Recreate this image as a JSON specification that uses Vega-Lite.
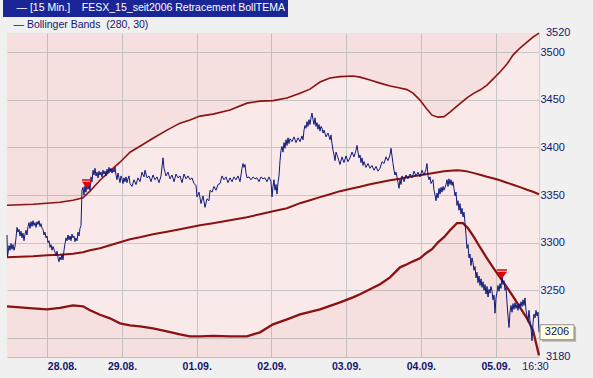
{
 "$schema": "https://vega.github.io/schema/vega-lite/v6.json",
 "width": 532, "height": 324,
 "autosize": "none",
 "padding": {"left": 7, "top": 33, "right": 54, "bottom": 21},
 "background": "#f0f0f0",
 "config": {"view": {"fill": "#fae9e9", "stroke": null}, "font": "Liberation Sans"},
 "datasets": {
  "price": [
{"i":0,"p":3308},{"i":0.5,"p":3285},{"i":2,"p":3297},{"i":3,"p":3292},{"i":4,"p":3299},{"i":5,"p":3293},{"i":6,"p":3298},{"i":7,"p":3292},{"i":8,"p":3296},{"i":9,"p":3305},{"i":10,"p":3316},{"i":11,"p":3311},{"i":12,"p":3314},{"i":13,"p":3307},{"i":14,"p":3312},{"i":15,"p":3305},{"i":16,"p":3310},{"i":17,"p":3302},{"i":18,"p":3309},{"i":19,"p":3313},{"i":20,"p":3308},{"i":21,"p":3317},{"i":22,"p":3321},{"i":23,"p":3315},{"i":24,"p":3322},{"i":25,"p":3317},{"i":26,"p":3323},{"i":27,"p":3318},{"i":28,"p":3321},{"i":29,"p":3316},{"i":30,"p":3322},{"i":31,"p":3319},{"i":32,"p":3323},{"i":33,"p":3317},{"i":34,"p":3320},{"i":35,"p":3315},{"i":36,"p":3314},{"i":37,"p":3308},{"i":38,"p":3311},{"i":39,"p":3305},{"i":40,"p":3307},{"i":41,"p":3300},{"i":42,"p":3302},{"i":43,"p":3295},{"i":44,"p":3298},{"i":45,"p":3292},{"i":46,"p":3296},{"i":47,"p":3293},{"i":48,"p":3290},{"i":49,"p":3286},{"i":50,"p":3291},{"i":51,"p":3284},{"i":52,"p":3280},{"i":53,"p":3285},{"i":54,"p":3282},{"i":55,"p":3288},{"i":56,"p":3282},{"i":57,"p":3292},{"i":58,"p":3299},{"i":59,"p":3305},{"i":60,"p":3302},{"i":61,"p":3308},{"i":62,"p":3303},{"i":63,"p":3307},{"i":64,"p":3302},{"i":65,"p":3309},{"i":66,"p":3305},{"i":67,"p":3307},{"i":68,"p":3301},{"i":69,"p":3305},{"i":70,"p":3302},{"i":71,"p":3311},{"i":72,"p":3307},{"i":73,"p":3315},{"i":74,"p":3318},{"i":75,"p":3355},{"i":76,"p":3358},{"i":77,"p":3350},{"i":78,"p":3360},{"i":79,"p":3353},{"i":80,"p":3362},{"i":81,"p":3356},{"i":82,"p":3361},{"i":83,"p":3355},{"i":84,"p":3369},{"i":85,"p":3364},{"i":86,"p":3376},{"i":87,"p":3371},{"i":88,"p":3378},{"i":89,"p":3370},{"i":90,"p":3374},{"i":91,"p":3368},{"i":92,"p":3375},{"i":93,"p":3371},{"i":94,"p":3374},{"i":95,"p":3369},{"i":96,"p":3376},{"i":97,"p":3372},{"i":98,"p":3375},{"i":99,"p":3370},{"i":100,"p":3377},{"i":101,"p":3373},{"i":102,"p":3379},{"i":103,"p":3375},{"i":104,"p":3378},{"i":105,"p":3373},{"i":106,"p":3377},{"i":107,"p":3374},{"i":108,"p":3379},{"i":109,"p":3371},{"i":110,"p":3366},{"i":111,"p":3373},{"i":112,"p":3368},{"i":113,"p":3363},{"i":114,"p":3370},{"i":115,"p":3367},{"i":116,"p":3362},{"i":117,"p":3368},{"i":118,"p":3364},{"i":119,"p":3369},{"i":120,"p":3363},{"i":121,"p":3367},{"i":122,"p":3370},{"i":123,"p":3362},{"i":125,"p":3359},{"i":127,"p":3366},{"i":129,"p":3361},{"i":131,"p":3368},{"i":133,"p":3364},{"i":135,"p":3374},{"i":137,"p":3369},{"i":138,"p":3376},{"i":140,"p":3368},{"i":142,"p":3370},{"i":144,"p":3364},{"i":146,"p":3371},{"i":148,"p":3366},{"i":150,"p":3369},{"i":152,"p":3363},{"i":154,"p":3370},{"i":156,"p":3389},{"i":157,"p":3378},{"i":159,"p":3370},{"i":161,"p":3374},{"i":163,"p":3367},{"i":165,"p":3371},{"i":167,"p":3364},{"i":169,"p":3372},{"i":171,"p":3368},{"i":173,"p":3370},{"i":175,"p":3363},{"i":177,"p":3372},{"i":179,"p":3367},{"i":181,"p":3370},{"i":183,"p":3366},{"i":185,"p":3368},{"i":187,"p":3362},{"i":189,"p":3360},{"i":190,"p":3348},{"i":192,"p":3353},{"i":194,"p":3341},{"i":196,"p":3349},{"i":198,"p":3337},{"i":200,"p":3346},{"i":202,"p":3344},{"i":203,"p":3355},{"i":205,"p":3353},{"i":207,"p":3359},{"i":209,"p":3355},{"i":211,"p":3361},{"i":213,"p":3362},{"i":215,"p":3370},{"i":217,"p":3366},{"i":219,"p":3369},{"i":221,"p":3363},{"i":223,"p":3368},{"i":225,"p":3364},{"i":227,"p":3369},{"i":229,"p":3366},{"i":231,"p":3370},{"i":233,"p":3364},{"i":235,"p":3378},{"i":236,"p":3383},{"i":237,"p":3379},{"i":238,"p":3382},{"i":239,"p":3373},{"i":240,"p":3368},{"i":242,"p":3369},{"i":244,"p":3366},{"i":246,"p":3369},{"i":248,"p":3367},{"i":250,"p":3368},{"i":252,"p":3364},{"i":254,"p":3369},{"i":256,"p":3367},{"i":258,"p":3368},{"i":260,"p":3364},{"i":262,"p":3369},{"i":264,"p":3364},{"i":265,"p":3348},{"i":266,"p":3359},{"i":267,"p":3366},{"i":268,"p":3355},{"i":269,"p":3361},{"i":270,"p":3351},{"i":271,"p":3363},{"i":272,"p":3370},{"i":273,"p":3386},{"i":274,"p":3397},{"i":275,"p":3401},{"i":276,"p":3395},{"i":277,"p":3405},{"i":278,"p":3399},{"i":279,"p":3408},{"i":280,"p":3402},{"i":281,"p":3410},{"i":282,"p":3404},{"i":283,"p":3409},{"i":285,"p":3406},{"i":287,"p":3411},{"i":289,"p":3405},{"i":291,"p":3410},{"i":293,"p":3406},{"i":295,"p":3412},{"i":296,"p":3408},{"i":297,"p":3418},{"i":298,"p":3423},{"i":299,"p":3420},{"i":300,"p":3427},{"i":301,"p":3422},{"i":302,"p":3429},{"i":303,"p":3424},{"i":304,"p":3431},{"i":305,"p":3436},{"i":306,"p":3429},{"i":307,"p":3424},{"i":308,"p":3431},{"i":309,"p":3422},{"i":310,"p":3426},{"i":311,"p":3419},{"i":312,"p":3424},{"i":313,"p":3417},{"i":314,"p":3422},{"i":315,"p":3420},{"i":316,"p":3415},{"i":317,"p":3418},{"i":319,"p":3411},{"i":321,"p":3415},{"i":323,"p":3408},{"i":324,"p":3413},{"i":325,"p":3404},{"i":326,"p":3397},{"i":327,"p":3392},{"i":328,"p":3386},{"i":329,"p":3395},{"i":331,"p":3389},{"i":333,"p":3382},{"i":335,"p":3390},{"i":337,"p":3384},{"i":339,"p":3391},{"i":341,"p":3385},{"i":343,"p":3389},{"i":345,"p":3395},{"i":347,"p":3390},{"i":349,"p":3397},{"i":350,"p":3402},{"i":351,"p":3395},{"i":352,"p":3389},{"i":353,"p":3392},{"i":354,"p":3384},{"i":355,"p":3389},{"i":356,"p":3381},{"i":357,"p":3385},{"i":359,"p":3379},{"i":361,"p":3383},{"i":363,"p":3378},{"i":365,"p":3381},{"i":367,"p":3376},{"i":369,"p":3380},{"i":371,"p":3375},{"i":373,"p":3378},{"i":375,"p":3385},{"i":377,"p":3383},{"i":379,"p":3390},{"i":381,"p":3386},{"i":383,"p":3392},{"i":384,"p":3399},{"i":385,"p":3391},{"i":386,"p":3383},{"i":387,"p":3376},{"i":388,"p":3371},{"i":389,"p":3374},{"i":390,"p":3369},{"i":391,"p":3363},{"i":392,"p":3357},{"i":393,"p":3366},{"i":394,"p":3361},{"i":395,"p":3370},{"i":397,"p":3364},{"i":399,"p":3371},{"i":401,"p":3367},{"i":403,"p":3372},{"i":405,"p":3368},{"i":407,"p":3375},{"i":409,"p":3370},{"i":411,"p":3374},{"i":413,"p":3369},{"i":415,"p":3376},{"i":417,"p":3371},{"i":419,"p":3377},{"i":420,"p":3383},{"i":421,"p":3370},{"i":422,"p":3366},{"i":423,"p":3369},{"i":424,"p":3362},{"i":426,"p":3366},{"i":427,"p":3355},{"i":428,"p":3350},{"i":429,"p":3344},{"i":430,"p":3352},{"i":431,"p":3347},{"i":432,"p":3357},{"i":433,"p":3351},{"i":434,"p":3358},{"i":435,"p":3353},{"i":436,"p":3359},{"i":437,"p":3355},{"i":439,"p":3361},{"i":440,"p":3366},{"i":441,"p":3359},{"i":442,"p":3367},{"i":443,"p":3361},{"i":444,"p":3366},{"i":445,"p":3360},{"i":446,"p":3364},{"i":447,"p":3357},{"i":448,"p":3349},{"i":449,"p":3353},{"i":450,"p":3339},{"i":451,"p":3344},{"i":452,"p":3334},{"i":453,"p":3341},{"i":454,"p":3330},{"i":455,"p":3336},{"i":456,"p":3327},{"i":457,"p":3332},{"i":458,"p":3321},{"i":459,"p":3308},{"i":460,"p":3294},{"i":461,"p":3298},{"i":462,"p":3284},{"i":463,"p":3288},{"i":464,"p":3276},{"i":465,"p":3284},{"i":466,"p":3279},{"i":467,"p":3271},{"i":468,"p":3275},{"i":469,"p":3263},{"i":470,"p":3269},{"i":471,"p":3258},{"i":472,"p":3265},{"i":473,"p":3255},{"i":474,"p":3262},{"i":475,"p":3253},{"i":476,"p":3259},{"i":477,"p":3250},{"i":478,"p":3256},{"i":479,"p":3246},{"i":480,"p":3254},{"i":481,"p":3243},{"i":482,"p":3251},{"i":483,"p":3247},{"i":484,"p":3254},{"i":485,"p":3249},{"i":486,"p":3240},{"i":487,"p":3245},{"i":488,"p":3226},{"i":489,"p":3242},{"i":490,"p":3248},{"i":491,"p":3255},{"i":492,"p":3249},{"i":493,"p":3257},{"i":494,"p":3252},{"i":495,"p":3266},{"i":496,"p":3256},{"i":497,"p":3260},{"i":498,"p":3250},{"i":499,"p":3253},{"i":500,"p":3237},{"i":501,"p":3223},{"i":502,"p":3211},{"i":503,"p":3227},{"i":504,"p":3234},{"i":505,"p":3227},{"i":506,"p":3236},{"i":507,"p":3230},{"i":508,"p":3237},{"i":509,"p":3231},{"i":510,"p":3235},{"i":511,"p":3229},{"i":512,"p":3236},{"i":513,"p":3232},{"i":514,"p":3238},{"i":515,"p":3233},{"i":516,"p":3240},{"i":517,"p":3234},{"i":518,"p":3242},{"i":519,"p":3229},{"i":520,"p":3223},{"i":521,"p":3217},{"i":522,"p":3229},{"i":523,"p":3218},{"i":524,"p":3210},{"i":525,"p":3197},{"i":526,"p":3216},{"i":527,"p":3225},{"i":528,"p":3221},{"i":529,"p":3229},{"i":530,"p":3223},{"i":531,"p":3227},{"i":532,"p":3206}
  ],
  "bands": [
{"i":0,"upper":3339.3,"middle":3284.6,"lower":3233.2},{"i":13,"upper":3339.8,"middle":3285.2,"lower":3232.1},{"i":26,"upper":3340.3,"middle":3285.7,"lower":3231.1},{"i":40,"upper":3341.4,"middle":3286.7,"lower":3230.0},{"i":53,"upper":3342.4,"middle":3287.3,"lower":3231.6},{"i":66,"upper":3344.5,"middle":3288.3,"lower":3234.2},{"i":76,"upper":3347.1,"middle":3289.9,"lower":3233.2},{"i":83,"upper":3354.0,"middle":3292.0,"lower":3229.0},{"i":93,"upper":3365.5,"middle":3294.1,"lower":3224.3},{"i":103,"upper":3375.0,"middle":3297.3,"lower":3220.6},{"i":113,"upper":3384.4,"middle":3300.4,"lower":3215.3},{"i":123,"upper":3394.9,"middle":3303.6,"lower":3213.2},{"i":133,"upper":3401.2,"middle":3305.7,"lower":3212.2},{"i":146,"upper":3409.6,"middle":3308.8,"lower":3210.1},{"i":160,"upper":3418.1,"middle":3311.4,"lower":3206.9},{"i":173,"upper":3425.4,"middle":3314.1,"lower":3203.8},{"i":183,"upper":3428.6,"middle":3316.2,"lower":3201.7},{"i":193,"upper":3432.8,"middle":3318.3,"lower":3201.7},{"i":206,"upper":3434.9,"middle":3320.4,"lower":3202.2},{"i":223,"upper":3439.1,"middle":3323.5,"lower":3201.7},{"i":240,"upper":3446.4,"middle":3326.7,"lower":3201.7},{"i":253,"upper":3448.5,"middle":3329.8,"lower":3205.9},{"i":266,"upper":3449.0,"middle":3333.0,"lower":3214.3},{"i":280,"upper":3451.7,"middle":3336.1,"lower":3219.5},{"i":293,"upper":3456.9,"middle":3341.4,"lower":3224.8},{"i":303,"upper":3461.1,"middle":3344.5,"lower":3227.4},{"i":313,"upper":3468.5,"middle":3347.7,"lower":3230.0},{"i":323,"upper":3472.7,"middle":3350.8,"lower":3233.7},{"i":333,"upper":3474.2,"middle":3354.0,"lower":3237.4},{"i":346,"upper":3474.8,"middle":3357.1,"lower":3242.6},{"i":353,"upper":3473.7,"middle":3358.7,"lower":3245.8},{"i":363,"upper":3470.6,"middle":3361.3,"lower":3251.0},{"i":373,"upper":3467.4,"middle":3363.4,"lower":3256.3},{"i":383,"upper":3464.3,"middle":3365.5,"lower":3263.6},{"i":393,"upper":3462.2,"middle":3367.1,"lower":3274.1},{"i":400,"upper":3460.6,"middle":3368.7,"lower":3277.3},{"i":406,"upper":3456.9,"middle":3369.7,"lower":3280.4},{"i":413,"upper":3449.6,"middle":3370.8,"lower":3283.6},{"i":419,"upper":3441.2,"middle":3371.8,"lower":3288.9},{"i":425,"upper":3433.8,"middle":3372.9,"lower":3293.1},{"i":431,"upper":3431.7,"middle":3373.9,"lower":3300.4},{"i":437,"upper":3432.2,"middle":3375.0,"lower":3305.7},{"i":443,"upper":3437.0,"middle":3375.5,"lower":3313.0},{"i":450,"upper":3443.3,"middle":3376.0,"lower":3320.4},{"i":456,"upper":3448.5,"middle":3375.5,"lower":3320.4},{"i":461,"upper":3452.7,"middle":3374.5,"lower":3315.1},{"i":467,"upper":3456.9,"middle":3372.9,"lower":3305.7},{"i":473,"upper":3460.1,"middle":3371.3,"lower":3295.2},{"i":480,"upper":3465.3,"middle":3369.2,"lower":3283.6},{"i":486,"upper":3471.6,"middle":3367.6,"lower":3274.1},{"i":493,"upper":3479.0,"middle":3365.5,"lower":3263.6},{"i":500,"upper":3487.4,"middle":3362.9,"lower":3253.1},{"i":506,"upper":3496.8,"middle":3360.8,"lower":3243.7},{"i":513,"upper":3504.2,"middle":3358.2,"lower":3232.1},{"i":520,"upper":3510.5,"middle":3355.5,"lower":3220.6},{"i":526,"upper":3515.7,"middle":3353.4,"lower":3208.0},{"i":532,"upper":3519.9,"middle":3350.8,"lower":3181.7}
  ],
  "signals": [{"i":80,"p":3361.3},{"i":495,"p":3266.8}],
  "last": [{"i":532,"p":3206}],
  "bandEnds": [{"i":532,"p":3520},{"i":532,"p":3180}]
 },
 "encoding": {
  "x": {"field": "i", "type": "quantitative", "title": null,
   "scale": {"domain": [0, 532], "nice": false, "zero": false},
   "axis": {
    "values": [40.3, 115, 189.7, 264.4, 339.1, 413.8, 488.5, 528],
    "labelExpr": "datum.value < 60 ? '28.08.' : datum.value < 150 ? '29.08.' : datum.value < 220 ? '01.09.' : datum.value < 300 ? '02.09.' : datum.value < 370 ? '03.09.' : datum.value < 450 ? '04.09.' : datum.value < 510 ? '05.09.' : '16:30'",
    "labelAlign": {"condition": {"test": "datum.value < 60", "value": "left"}, "value": "center"},
    "labelFontWeight": {"condition": {"test": "datum.value > 520", "value": "normal"}, "value": "bold"},
    "gridColor": {"condition": {"test": "datum.value > 520", "value": "rgba(0,0,0,0)"}, "value": "#c6c6c6"},
    "grid": true, "ticks": false, "domain": true, "domainColor": "#bdbdbd",
    "labelFont": "Liberation Sans", "labelFontSize": 10.5, "labelColor": "#14166e",
    "labelPadding": 4, "labelBound": false, "labelOverlap": false, "labelFlush": false
   }
  }
 },
 "layer": [
  {"data": {"name": "bands"},
   "mark": {"type": "area", "color": "#b41e1e", "opacity": 0.05},
   "encoding": {
    "y": {"field": "upper", "type": "quantitative", "title": null,
     "scale": {"domain": [3180, 3520], "nice": false, "zero": false},
     "axis": {"orient": "right", "values": [3200, 3250, 3300, 3350, 3400, 3450, 3500], "format": "d",
      "labelExpr": "datum.value == 3200 ? '' : datum.label",
      "grid": true, "gridColor": "#c6c6c6", "ticks": false, "domain": true, "domainColor": "#d0d0d0",
      "labelPadding": 1, "labelFont": "Liberation Sans", "labelFontSize": 11, "labelColor": "#14166e", "title": null}},
    "y2": {"datum": 3520}}},
  {"data": {"name": "bands"},
   "mark": {"type": "area", "color": "#b41e1e", "opacity": 0.05},
   "encoding": {"y": {"field": "lower", "type": "quantitative", "title": null}, "y2": {"datum": 3180}}},
  {"data": {"name": "bands"},
   "transform": [{"fold": ["upper", "middle", "lower"], "as": ["band", "v"]}],
   "mark": {"type": "line"},
   "encoding": {
    "y": {"field": "v", "type": "quantitative", "title": null},
    "detail": {"field": "band"},
    "strokeWidth": {"field": "band", "type": "nominal", "scale": {"domain": ["upper", "middle", "lower"], "range": [1.6, 2.3, 1.6]}, "legend": null},
    "stroke": {"datum": "Bollinger Bands\u00a0\u00a0(280, 30)", "scale": {"range": ["#8a1212"]},
     "legend": {"orient": "none", "legendX": -7, "legendY": -16, "title": null, "padding": 3,
      "labelColor": "#14166e", "labelFont": "Liberation Sans", "labelFontSize": 10.5, "labelLimit": 600, "labelOffset": 0,
      "symbolSize": 0, "symbolStrokeWidth": 0, "symbolOpacity": 0,
      "labelExpr": "'\u00a0\u00a0\u2014 ' + datum.label"}}}},
  {"data": {"name": "price"},
   "mark": {"type": "line", "strokeWidth": 1},
   "encoding": {
    "y": {"field": "p", "type": "quantitative", "title": null},
    "color": {"datum": "[15 Min.]\u00a0\u00a0\u00a0\u00a0FESX_15_seit2006 Retracement BollTEMA", "scale": {"range": ["#0d1a7a"]},
     "legend": {"orient": "none", "legendX": -4, "legendY": -33, "title": null, "padding": 3, "fillColor": "#1a2596",
      "labelColor": "#ffffff", "labelFont": "Liberation Sans", "labelFontSize": 10.5, "labelLimit": 600, "labelOffset": 0,
      "symbolSize": 0, "symbolStrokeWidth": 0, "symbolOpacity": 0,
      "labelExpr": "'\u00a0\u2014 ' + datum.label + '\u00a0\u00a0\u00a0'"}}}},
  {"data": {"name": "signals"},
   "mark": {"type": "point", "shape": "M-1,-1L1,-1L1,-0.72L-1,-0.72Z M-1,-0.5L1,-0.5L0,0.85Z", "size": 100, "filled": true, "color": "#e00000", "opacity": 1},
   "encoding": {"y": {"field": "p", "type": "quantitative", "title": null}}},
  {"data": {"name": "last"},
   "mark": {"type": "point", "shape": "M0.18,-0.32L2.18,-0.32L2.18,0.56L0.18,0.56Z", "size": 1156, "filled": true, "color": "#9a9a9a", "opacity": 0.7},
   "encoding": {"y": {"field": "p", "type": "quantitative", "title": null}}},
  {"data": {"name": "last"},
   "mark": {"type": "point", "shape": "M0.06,-0.44L2.06,-0.44L2.06,0.44L0.06,0.44Z", "size": 1156, "filled": true, "fill": "#ffffe1", "stroke": "#8c8c8c", "strokeWidth": 1, "opacity": 1},
   "encoding": {"y": {"field": "p", "type": "quantitative", "title": null}}},
  {"data": {"name": "last"},
   "mark": {"type": "text", "dx": 18, "align": "center", "baseline": "middle", "fontSize": 11, "font": "Liberation Sans", "color": "#10105a"},
   "encoding": {"y": {"field": "p", "type": "quantitative", "title": null}, "text": {"field": "p", "type": "quantitative", "format": "d"}}},
  {"data": {"name": "bandEnds"},
   "mark": {"type": "text", "dx": 7, "align": "left", "baseline": "middle", "fontSize": 11, "font": "Liberation Sans", "color": "#14166e"},
   "encoding": {"y": {"field": "p", "type": "quantitative", "title": null}, "text": {"field": "p", "type": "quantitative", "format": "d"}}}
 ]
}
